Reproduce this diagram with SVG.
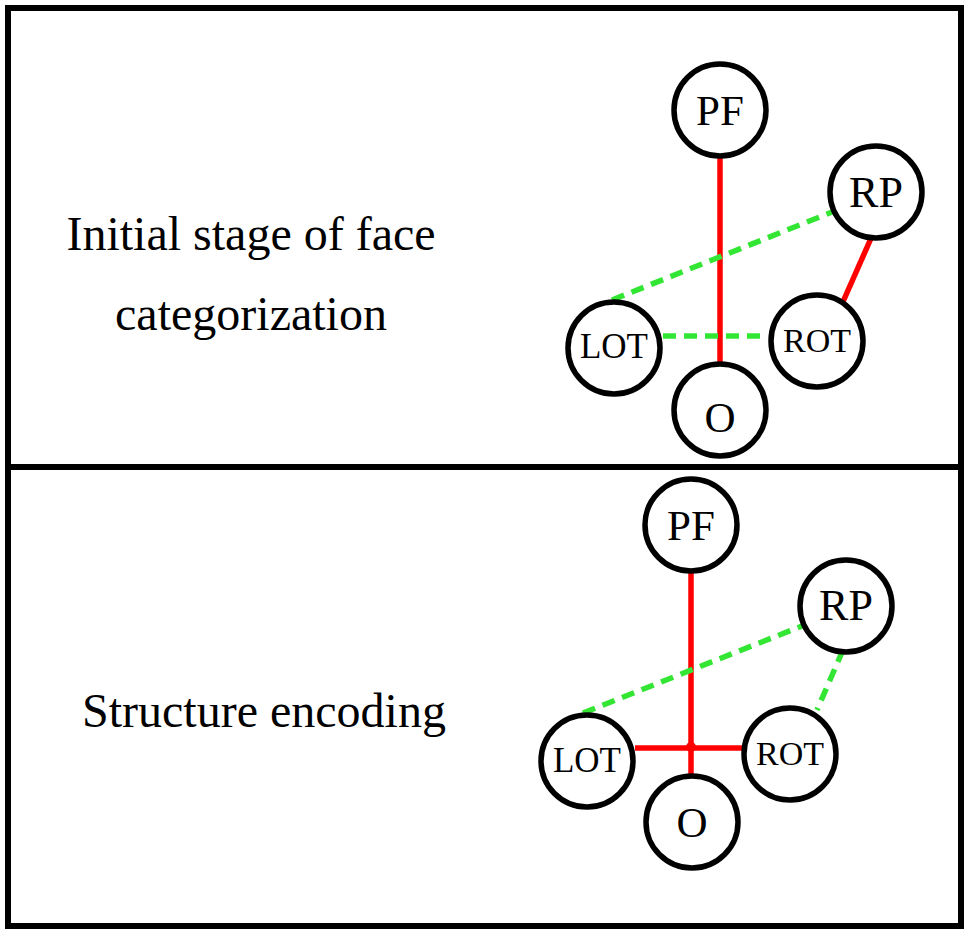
<svg xmlns="http://www.w3.org/2000/svg" width="970" height="936" viewBox="0 0 970 936">
<style>
.node{fill:#fff;stroke:#000;stroke-width:5.5}
.lbl{font-family:"Liberation Serif","Times New Roman",serif;fill:#000;text-anchor:middle}
.title{font-family:"Liberation Serif","Times New Roman",serif;fill:#000;font-size:48px;text-anchor:middle}
.red{stroke:#ff0000;stroke-width:5.5;fill:none}
.green{stroke:#33e633;stroke-width:5.5;fill:none;stroke-dasharray:13 8}
</style>
<rect x="0" y="0" width="970" height="936" fill="#fff"/>
<g id="frame" fill="none" stroke="#000" stroke-width="6">
<rect x="8" y="8" width="953" height="918"/>
<line x1="8" y1="467" x2="961" y2="467"/>
</g>
<g id="labels">
<text class="title" x="251" y="250">Initial stage of face</text>
<text class="title" x="251" y="330">categorization</text>
<text class="title" x="264" y="727">Structure encoding</text>
</g>
<g id="connectors">
<line class="red" x1="720" y1="158" x2="720" y2="366"/>
<line class="red" x1="872" y1="236" x2="842" y2="304"/>
<line class="green" x1="612" y1="300" x2="837" y2="210"/>
<line class="green" x1="663" y1="336" x2="762" y2="336"/>
<line class="red" x1="691" y1="570" x2="691" y2="780"/>
<line class="red" x1="635" y1="748" x2="743" y2="748"/>
<circle cx="691" cy="747" r="5" fill="#ff0000"/>
<line class="green" x1="583" y1="713" x2="807" y2="624"/>
<line class="green" x1="843" y1="650" x2="817" y2="710"/>
</g>
<g id="top-PF"><circle class="node" cx="720" cy="110" r="46"/><text class="lbl" x="720" y="125" font-size="43">PF</text></g>
<g id="top-RP"><circle class="node" cx="876" cy="192" r="46"/><text class="lbl" x="876" y="207" font-size="44">RP</text></g>
<g id="top-LOT"><circle class="node" cx="614" cy="348" r="46"/><text class="lbl" x="614" y="358" font-size="35">LOT</text></g>
<g id="top-ROT"><circle class="node" cx="817" cy="341" r="46"/><text class="lbl" x="817" y="352" font-size="34">ROT</text></g>
<g id="top-O"><circle class="node" cx="720" cy="410" r="46"/><text class="lbl" x="720" y="432" font-size="43">O</text></g>
<g id="bot-PF"><circle class="node" cx="691" cy="525" r="46"/><text class="lbl" x="691" y="540" font-size="43">PF</text></g>
<g id="bot-RP"><circle class="node" cx="846" cy="606" r="46"/><text class="lbl" x="846" y="620" font-size="44">RP</text></g>
<g id="bot-LOT"><circle class="node" cx="587" cy="761" r="46"/><text class="lbl" x="587" y="772" font-size="35">LOT</text></g>
<g id="bot-ROT"><circle class="node" cx="790" cy="754" r="46"/><text class="lbl" x="790" y="765" font-size="34">ROT</text></g>
<g id="bot-O"><circle class="node" cx="692" cy="822" r="46"/><text class="lbl" x="692" y="837" font-size="43">O</text></g>
</svg>
